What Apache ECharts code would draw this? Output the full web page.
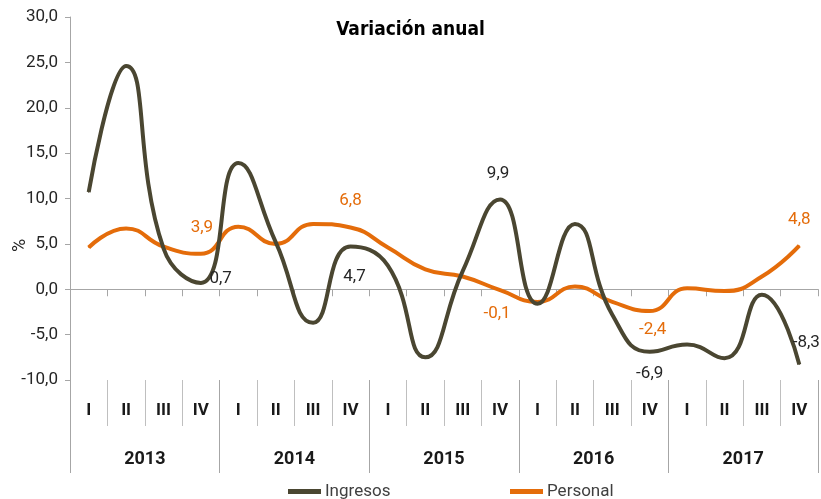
<!DOCTYPE html>
<html>
<head>
<meta charset="utf-8">
<script src="https://cdn.jsdelivr.net/npm/echarts@6/dist/echarts.min.js"></script>
<style>
html,body{margin:0;padding:0;background:#fff;}
#chart{width:821px;height:499px;}
</style>
</head>
<body>
<div id="chart"></div>
<script>
// ---- data ----
var quarters = ['I','II','III','IV','I','II','III','IV','I','II','III','IV','I','II','III','IV','I','II','III','IV'];
var years = ['2013','2014','2015','2016','2017'];
var ingresos = [10.7, 24.6, 4.5, 0.7, 13.9, 5.2, -3.7, 4.7, 2.6, -7.5, 2.0, 9.9, -1.6, 7.2, -2.8, -6.9, -6.1, -7.6, -0.6, -8.3];
var personal = [4.6, 6.7, 4.7, 3.9, 6.9, 5.0, 7.2, 6.8, 4.6, 2.2, 1.4, -0.1, -1.4, 0.3, -1.4, -2.4, 0.1, -0.2, 1.4, 4.8];
var ingresosLabeled = [3, 7, 11, 15, 19];
var personalLabeled = [3, 7, 11, 15, 19];
var yTicks = [-10, -5, 0, 5, 10, 15, 20, 25, 30];

// ---- styling ----
var FONT = 'Roboto, sans-serif';
var TITLE_FONT = '"DejaVu Sans Condensed", Roboto, sans-serif';
var DARK = '#4a4631';
var ORANGE = '#e46c0a';

var ingLabelPos = {
  3: {position: 'right', distance: 8, offset: [0, -4]},
  7: {position: 'bottom', distance: 21, offset: [4, 0]},
  11: {position: 'top', distance: 17, offset: [-2, 0]},
  15: {position: 'bottom', distance: 13, offset: [0, 0]},
  19: {position: 'top', distance: 13, offset: [7, 0]}
};
var perLabelPos = {
  3: {position: 'top', distance: 17, offset: [1, 0]},
  7: {position: 'top', distance: 18, offset: [0, 0]},
  11: {position: 'bottom', distance: 15, offset: [-3, 0]},
  15: {position: 'bottom', distance: 10, offset: [3, 0]},
  19: {position: 'top', distance: 17, offset: [0, 0]}
};

function fmt(v){ return v.toFixed(1).replace('.', ','); }

function buildData(values, labeled, posMap, color){
  return values.map(function(v, i){
    if (labeled.indexOf(i) >= 0) {
      var p = posMap[i];
      return {value: v, label: {show: true, position: p.position, distance: p.distance, offset: p.offset,
        formatter: function(o){ return fmt(o.value); }, color: color, fontFamily: FONT, fontSize: 17}};
    }
    return {value: v};
  });
}

var chart = echarts.init(document.getElementById('chart'), null, {renderer: 'canvas'});
var option = {
  animation: false,
  backgroundColor: '#ffffff',
  title: {
    text: 'Variación anual',
    left: 'center',
    top: 16,
    padding: [5, 5, 5, 20],
    textStyle: {fontFamily: TITLE_FONT, fontSize: 19, fontWeight: 'bold', color: '#000'}
  },
  legend: [{
    data: ['Ingresos'],
    left: 283, top: 478,
    icon: 'rect', itemWidth: 33, itemHeight: 5, itemGap: 4,
    textStyle: {fontFamily: FONT, fontSize: 17, color: '#404040', padding: [0,0,0,-1]}
  }, {
    data: ['Personal'],
    left: 505, top: 478,
    icon: 'rect', itemWidth: 33, itemHeight: 5, itemGap: 4,
    textStyle: {fontFamily: FONT, fontSize: 17, color: '#404040', padding: [0,0,0,-1]}
  }],
  grid: {left: 70, right: 3, top: 17, bottom: 119, containLabel: false, outerBoundsMode: 'none'},
  xAxis: [{
    type: 'category',
    data: quarters,
    boundaryGap: true,
    axisLine: {onZero: true, lineStyle: {color: '#a6a6a6', width: 1}},
    axisTick: {show: true, length: 7, lineStyle: {color: '#a6a6a6'}},
    axisLabel: {show: false}
  }, {
    type: 'category',
    data: quarters,
    position: 'bottom',
    boundaryGap: true,
    axisLine: {show: false},
    axisTick: {show: true, length: 46, lineStyle: {color: '#bfbfbf'}},
    axisLabel: {show: true, margin: 22, fontFamily: FONT, fontSize: 17, fontWeight: 'bold', color: '#1a1a1a'}
  }, {
    type: 'category',
    data: years,
    position: 'bottom',
    boundaryGap: true,
    axisLine: {show: false},
    axisTick: {show: true, length: 93, lineStyle: {color: '#a6a6a6'}},
    axisLabel: {show: true, margin: 70, fontFamily: FONT, fontSize: 18, fontWeight: 'bold', color: '#1a1a1a'}
  }],
  yAxis: {
    type: 'value',
    min: yTicks[0], max: yTicks[yTicks.length - 1], interval: 5,
    name: '%',
    nameLocation: 'middle',
    nameRotate: 90,
    nameGap: 41,
    nameMoveOverlap: false,
    nameTextStyle: {fontFamily: FONT, fontSize: 18, color: '#262626', padding: [0, 94, 0, 0]},
    axisLine: {show: true, lineStyle: {color: '#a6a6a6'}},
    axisTick: {show: true, length: 5, lineStyle: {color: '#a6a6a6'}},
    splitLine: {show: false},
    axisLabel: {margin: 12, fontFamily: FONT, fontSize: 17, color: '#262626',
      formatter: function(v){ return fmt(v); }}
  },
  series: [{
    name: 'Ingresos',
    type: 'line',
    xAxisIndex: 0,
    smooth: 0.5,
    symbol: 'circle',
    symbolSize: 1,
    showSymbol: true,
    color: DARK,
    lineStyle: {width: 4, color: DARK},
    data: buildData(ingresos, ingresosLabeled, ingLabelPos, '#262626'),
    z: 3
  }, {
    name: 'Personal',
    type: 'line',
    xAxisIndex: 0,
    smooth: 0.5,
    symbol: 'circle',
    symbolSize: 1,
    showSymbol: true,
    color: ORANGE,
    lineStyle: {width: 4, color: ORANGE},
    data: buildData(personal, personalLabeled, perLabelPos, ORANGE),
    z: 2
  }]
};
chart.setOption(option);
</script>
</body>
</html>
